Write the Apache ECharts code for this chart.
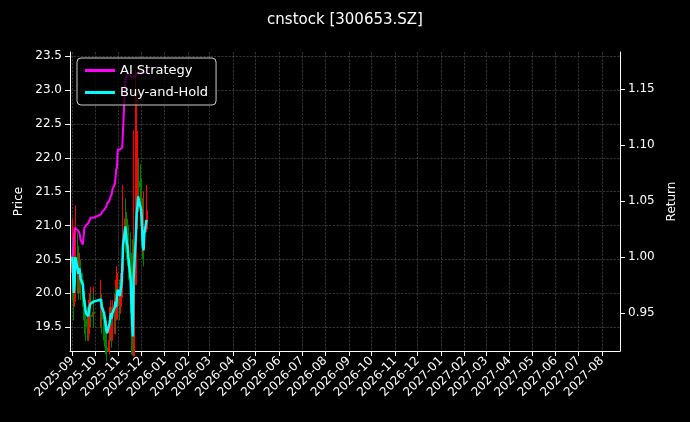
<!DOCTYPE html>
<html><head><meta charset="utf-8">
<script src="https://cdn.jsdelivr.net/npm/echarts@6/dist/echarts.min.js"></script>
<style>html,body{margin:0;background:#000}#c{width:690px;height:422px}</style>
</head><body><div id="c"></div>
<script>
const tradingDates = [
'2025-09-01','2025-09-02','2025-09-03','2025-09-04','2025-09-05','2025-09-08','2025-09-09','2025-09-10','2025-09-11','2025-09-12','2025-09-15','2025-09-16','2025-09-17','2025-09-18','2025-09-19','2025-09-22','2025-09-23','2025-09-24','2025-09-25','2025-09-26','2025-09-29','2025-09-30',
'2025-10-09','2025-10-10','2025-10-13','2025-10-14','2025-10-15','2025-10-16','2025-10-17','2025-10-20','2025-10-21','2025-10-22','2025-10-23','2025-10-24','2025-10-27','2025-10-28','2025-10-29','2025-10-30','2025-10-31',
'2025-11-03','2025-11-04','2025-11-05','2025-11-06','2025-11-07','2025-11-10','2025-11-11','2025-11-12','2025-11-13','2025-11-14','2025-11-17','2025-11-18','2025-11-19','2025-11-20','2025-11-21','2025-11-24','2025-11-25','2025-11-26','2025-11-27','2025-11-28',
'2025-12-01','2025-12-02','2025-12-03','2025-12-04','2025-12-05','2025-12-08'];
const closes = [20.54,20.33,19.88,20.03,20.54,20.33,20.23,20.33,20.29,20.13,20.03,19.82,19.72,19.62,19.51,19.45,19.55,19.64,19.68,19.66,19.72,19.70,
19.76,19.62,19.51,19.41,19.31,19.20,19.14,19.31,19.39,19.51,19.41,19.51,19.62,19.72,19.62,19.82,19.94,
19.82,19.94,20.03,20.33,20.75,21.10,20.95,20.79,20.73,20.54,20.13,19.72,19.31,19.08,20.13,20.95,21.34,21.46,21.65,21.57,
21.40,21.16,20.75,20.66,20.95,21.22];
const opens = [20.30,20.54,20.33,19.88,20.03,20.54,20.33,20.23,20.33,20.29,20.13,20.03,19.82,19.72,19.62,19.51,19.45,19.55,19.64,19.68,19.66,19.72,
19.70,19.76,19.62,19.51,19.41,19.31,19.20,19.14,19.31,19.39,19.51,19.41,19.51,19.62,19.72,19.62,19.82,
19.94,19.82,19.94,20.03,20.33,20.75,21.10,20.95,20.79,20.73,20.54,20.13,19.72,19.31,19.08,20.13,20.95,21.34,21.46,21.65,
21.57,21.40,21.16,20.75,20.66,20.95];
const highs = [21.1,20.8,20.6,20.9,21.3,20.9,20.7,20.6,20.6,20.5,20.3,20.2,20.0,19.9,19.9,19.8,19.9,20.0,20.1,20.0,20.1,20.0,
20.2,20.0,19.8,19.7,19.6,19.6,19.5,19.6,19.8,19.9,19.8,19.9,20.0,20.2,20.1,20.4,20.3,
20.2,20.3,20.4,20.8,21.6,21.2,21.4,21.2,21.1,21.0,20.9,20.6,20.2,20.8,22.4,23.3,23.0,22.4,22.2,22.0,
21.9,21.7,21.3,21.2,21.5,21.6];
const lows = [20.1,19.9,19.6,19.8,19.9,20.0,19.9,20.0,20.0,19.9,19.8,19.6,19.5,19.4,19.3,19.3,19.3,19.4,19.5,19.5,19.5,19.5,
19.5,19.4,19.3,19.2,19.1,19.0,19.0,19.1,19.2,19.3,19.2,19.3,19.4,19.5,19.4,19.6,19.7,
19.6,19.7,19.8,20.0,20.3,20.7,20.6,20.5,20.4,20.2,19.9,19.5,19.1,19.2,19.9,20.6,21.0,21.1,21.3,21.2,
21.0,20.8,20.5,20.4,20.6,20.9];
const aiReturn = [1.0,1.004,1.015,1.026,1.026,1.024,1.025,1.022,1.02,1.015,1.011,1.012,1.026,1.025,1.028,1.03,1.031,1.033,1.035,1.036,1.035,1.035,
1.038,1.04,1.042,1.041,1.043,1.045,1.048,1.05,1.053,1.053,1.056,1.06,1.065,1.07,1.078,1.08,1.096,
1.096,1.097,1.097,1.098,1.099,1.158,1.16,1.162,1.162,1.162,1.162,1.162,1.162,1.16,1.16,1.162,1.164,1.165,1.165,1.165,
1.165,1.165,1.165,1.165,1.165,1.165];
const bhReturn = closes.map(c => c / closes[0]);
const priceTicks = [19.5,20.0,20.5,21.0,21.5,22.0,22.5,23.0,23.5];
const returnTicks = [0.95,1.00,1.05,1.10,1.15];
const legendNames = ['AI Strategy','Buy-and-Hold'];

const chart = echarts.init(document.getElementById('c'));
const font = 'DejaVu Sans';
const ax = {color:'#fff', fontFamily:font, fontSize:12};
chart.setOption({
  backgroundColor:'#000',
  animation:false,
  title:{text:'cnstock [300653.SZ]', left:'center', top:8, textStyle:{color:'#fff', fontFamily:font, fontSize:15, fontWeight:'normal'}},
  legend:{data:legendNames, orient:'vertical', left:77, top:58, itemWidth:30, itemHeight:3, itemGap:9, padding:[6,8,6,8],
    backgroundColor:'rgba(0,0,0,0.75)', borderColor:'#ccc', borderWidth:1, borderRadius:4,
    textStyle:{color:'#fff', fontFamily:font, fontSize:13}, icon:'rect'},
  grid:{left:70, right:70, top:52, bottom:71},
  xAxis:{type:'time', min:'2025-08-29', max:'2027-08-25', splitNumber:24,
    minInterval:28*864e5, maxInterval:31*864e5,
    axisLine:{lineStyle:{color:'#fff'}}, axisTick:{lineStyle:{color:'#fff'}},
    axisLabel:Object.assign({}, ax, {rotate:45, showMinLabel:false, showMaxLabel:false, hideOverlap:false,
      formatter:v=>{const d=new Date(v);return d.getFullYear()+'-'+String(d.getMonth()+1).padStart(2,'0');}}),
    splitLine:{show:true, lineStyle:{color:'#555', type:'dashed', width:0.6}}},
  yAxis:[
    {type:'value', min:19.15, max:23.56, name:'Price', nameLocation:'middle', nameGap:42,
     nameTextStyle:{color:'#fff', fontFamily:font, fontSize:12},
     axisLine:{show:true, lineStyle:{color:'#fff'}}, axisTick:{show:true, customValues:priceTicks},
     axisLabel:Object.assign({}, ax, {customValues:priceTicks, formatter:v=>v.toFixed(1)}),
     splitLine:{show:true, lineStyle:{color:'#555', type:'dashed', width:0.6}}},
    {type:'value', min:0.916, max:1.183, name:'Return', nameLocation:'middle', nameGap:44,
     nameTextStyle:{color:'#fff', fontFamily:font, fontSize:12},
     axisLine:{show:true, lineStyle:{color:'#fff'}}, axisTick:{show:true, customValues:returnTicks},
     axisLabel:Object.assign({}, ax, {customValues:returnTicks, formatter:v=>v.toFixed(2)}),
     splitLine:{show:false}}
  ],
  series:[
    {type:'candlestick', yAxisIndex:0, barMaxWidth:2, barWidth:1.5,
     itemStyle:{color:'#ff0000', color0:'#008000', borderColor:'#ff0000', borderColor0:'#008000', borderWidth:1},
     data:tradingDates.map((d,i)=>[d, opens[i], closes[i], lows[i], highs[i]])},
    {name:legendNames[0], type:'line', yAxisIndex:1, showSymbol:false, lineStyle:{color:'#ff00ff', width:2}, itemStyle:{color:'#ff00ff'},
     data:tradingDates.map((d,i)=>[d, aiReturn[i]])},
    {name:legendNames[1], type:'line', yAxisIndex:1, showSymbol:false, lineStyle:{color:'#00ffff', width:2.5}, itemStyle:{color:'#00ffff'},
     data:tradingDates.map((d,i)=>[d, bhReturn[i]])}
  ]
});
</script></body></html>
